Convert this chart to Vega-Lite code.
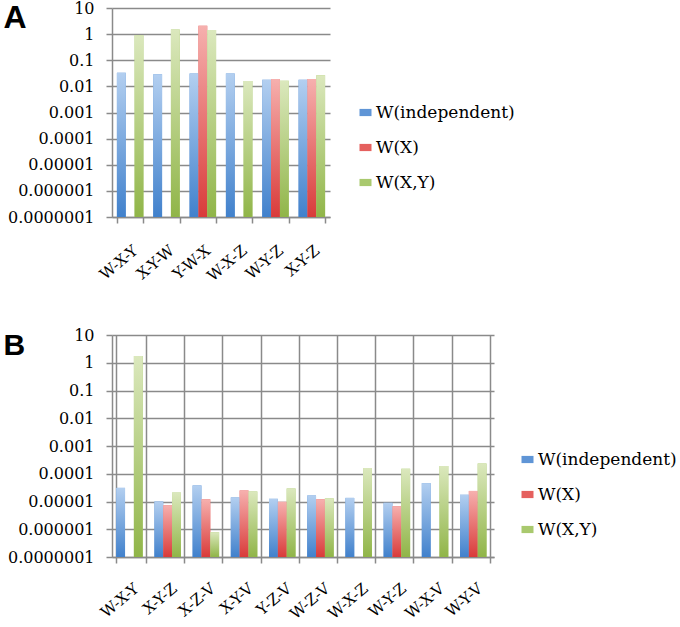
{
  "$schema": "https://vega.github.io/schema/vega-lite/v6.json",
  "padding": {"left": 3, "top": 0, "right": 0, "bottom": 0},
  "background": "white",
  "spacing": 42,
  "datasets": {
    "a": [
      {"combo": "W-X-Y", "series": "W(independent)", "value": 0.0335},
      {"combo": "W-X-Y", "series": "W(X,Y)", "value": 0.91},
      {"combo": "X-Y-W", "series": "W(independent)", "value": 0.029},
      {"combo": "X-Y-W", "series": "W(X,Y)", "value": 1.5},
      {"combo": "Y-W-X", "series": "W(independent)", "value": 0.031},
      {"combo": "Y-W-X", "series": "W(X)", "value": 2.1},
      {"combo": "Y-W-X", "series": "W(X,Y)", "value": 1.45},
      {"combo": "W-X-Z", "series": "W(independent)", "value": 0.031},
      {"combo": "W-X-Z", "series": "W(X,Y)", "value": 0.016},
      {"combo": "W-Y-Z", "series": "W(independent)", "value": 0.018},
      {"combo": "W-Y-Z", "series": "W(X)", "value": 0.019},
      {"combo": "W-Y-Z", "series": "W(X,Y)", "value": 0.0163},
      {"combo": "X-Y-Z", "series": "W(independent)", "value": 0.018},
      {"combo": "X-Y-Z", "series": "W(X)", "value": 0.019},
      {"combo": "X-Y-Z", "series": "W(X,Y)", "value": 0.0266}
    ],
    "b": [
      {"combo": "W-X-Y", "series": "W(independent)", "value": 0.000031},
      {"combo": "W-X-Y", "series": "W(X,Y)", "value": 1.75},
      {"combo": "X-Y-Z", "series": "W(independent)", "value": 0.00001},
      {"combo": "X-Y-Z", "series": "W(X)", "value": 0.0000074},
      {"combo": "X-Y-Z", "series": "W(X,Y)", "value": 0.000021},
      {"combo": "X-Z-V", "series": "W(independent)", "value": 0.000038},
      {"combo": "X-Z-V", "series": "W(X)", "value": 0.000012},
      {"combo": "X-Z-V", "series": "W(X,Y)", "value": 0.00000078},
      {"combo": "X-Y-V", "series": "W(independent)", "value": 0.000014},
      {"combo": "X-Y-V", "series": "W(X)", "value": 0.000025},
      {"combo": "X-Y-V", "series": "W(X,Y)", "value": 0.000023},
      {"combo": "Y-Z-V", "series": "W(independent)", "value": 0.0000125},
      {"combo": "Y-Z-V", "series": "W(X)", "value": 0.0000097},
      {"combo": "Y-Z-V", "series": "W(X,Y)", "value": 0.0000295},
      {"combo": "W-Z-V", "series": "W(independent)", "value": 0.0000165},
      {"combo": "W-Z-V", "series": "W(X)", "value": 0.000012},
      {"combo": "W-Z-V", "series": "W(X,Y)", "value": 0.000013},
      {"combo": "W-X-Z", "series": "W(independent)", "value": 0.0000135},
      {"combo": "W-X-Z", "series": "W(X,Y)", "value": 0.00016},
      {"combo": "W-Y-Z", "series": "W(independent)", "value": 0.000009},
      {"combo": "W-Y-Z", "series": "W(X)", "value": 0.0000068},
      {"combo": "W-Y-Z", "series": "W(X,Y)", "value": 0.00015},
      {"combo": "W-X-V", "series": "W(independent)", "value": 0.000046},
      {"combo": "W-X-V", "series": "W(X,Y)", "value": 0.00019},
      {"combo": "W-Y-V", "series": "W(independent)", "value": 0.0000175},
      {"combo": "W-Y-V", "series": "W(X)", "value": 0.000024},
      {"combo": "W-Y-V", "series": "W(X,Y)", "value": 0.000235}
    ]
  },
  "config": {
    "view": {"stroke": null},
    "axis": {
      "domainColor": "#8a8a8a", "domainWidth": 1.5,
      "tickColor": "#8a8a8a", "tickWidth": 1.5, "tickSize": 6,
      "gridColor": "#8a8a8a", "gridWidth": 1.5, "gridOpacity": 1,
      "labelFont": "DejaVu Serif", "labelColor": "#000000"
    },
    "legend": {
      "labelFont": "DejaVu Serif", "labelFontSize": 17, "labelColor": "#000000",
      "symbolType": "M-1,-0.6H1V0.6H-1Z", "symbolSize": 144, "symbolStrokeWidth": 0,
      "rowPadding": 17, "labelOffset": 2, "title": null
    }
  },
  "resolve": {
    "scale": {"color": "independent"},
    "legend": {"color": "independent"}
  },
  "vconcat": [
    {
      "width": 218,
      "height": 209,
      "data": {"name": "a"},
      "encoding": {
        "x": {
          "field": "combo", "type": "nominal",
          "sort": ["W-X-Y", "X-Y-W", "Y-W-X", "W-X-Z", "W-Y-Z", "X-Y-Z"],
          "scale": {"paddingInner": 0.27, "paddingOuter": 0.135},
          "axis": {"title": null, "labelAngle": -40, "labelAlign": "right", "labelBaseline": "middle", "labelFontSize": 15.5, "labelPadding": 25, "labelOffset": 5, "tickBand": "extent", "grid": false}
        },
        "xOffset": {
          "field": "series", "type": "nominal",
          "scale": {"domain": ["W(independent)", "W(X)", "W(X,Y)"]}
        },
        "y": {
          "field": "value", "type": "quantitative", "stack": null,
          "scale": {"type": "log", "domain": [0.0000001, 10], "nice": false},
          "axis": {
            "values": [0.0000001, 0.000001, 0.00001, 0.0001, 0.001, 0.01, 0.1, 1, 10],
            "format": ".7~f", "labelFontSize": 16, "labelPadding": 12, "grid": true,
            "title": "A", "titleAngle": 0, "titleFont": "Liberation Sans", "titleFontSize": 32, "titleFontWeight": "bold",
            "titleAlign": "left", "titleBaseline": "top", "titleX": -109, "titleY": -6, "titleColor": "#000000"
          }
        },
        "y2": {"datum": 0.0000001}
      },
      "layer": [
        {
          "mark": {"type": "bar"},
          "encoding": {
            "color": {
              "field": "series", "type": "nominal",
              "scale": {"domain": ["W(independent)", "W(X)", "W(X,Y)"], "range": ["#5f95d6", "#e5605e", "#a9c96e"]},
              "legend": {"orient": "none", "legendX": 245, "legendY": 96}
            }
          }
        },
        {
          "transform": [{"filter": "datum.series === 'W(independent)'"}],
          "mark": {"type": "bar", "color": {"gradient": "linear", "x1": 0, "y1": 1, "x2": 0, "y2": 0, "stops": [{"offset": 0, "color": "#4181cc"}, {"offset": 1, "color": "#b3cff0"}]}}
        },
        {
          "transform": [{"filter": "datum.series === 'W(X)'"}],
          "mark": {"type": "bar", "color": {"gradient": "linear", "x1": 0, "y1": 1, "x2": 0, "y2": 0, "stops": [{"offset": 0, "color": "#d93b3a"}, {"offset": 1, "color": "#f6b0ae"}]}}
        },
        {
          "transform": [{"filter": "datum.series === 'W(X,Y)'"}],
          "mark": {"type": "bar", "color": {"gradient": "linear", "x1": 0, "y1": 1, "x2": 0, "y2": 0, "stops": [{"offset": 0, "color": "#90b548"}, {"offset": 1, "color": "#dbe8bd"}]}}
        }
      ]
    },
    {
      "width": 382,
      "height": 222,
      "data": {"name": "b"},
      "encoding": {
        "x": {
          "field": "combo", "type": "nominal",
          "sort": ["W-X-Y", "X-Y-Z", "X-Z-V", "X-Y-V", "Y-Z-V", "W-Z-V", "W-X-Z", "W-Y-Z", "W-X-V", "W-Y-V"],
          "scale": {"paddingInner": 0.22, "paddingOuter": 0.11},
          "axis": {"title": null, "labelAngle": -40, "labelAlign": "right", "labelBaseline": "middle", "labelFontSize": 15.5, "labelPadding": 23, "labelOffset": 5, "tickBand": "extent", "grid": true}
        },
        "xOffset": {
          "field": "series", "type": "nominal",
          "scale": {"domain": ["W(independent)", "W(X)", "W(X,Y)"]}
        },
        "y": {
          "field": "value", "type": "quantitative", "stack": null,
          "scale": {"type": "log", "domain": [0.0000001, 10], "nice": false},
          "axis": {
            "values": [0.0000001, 0.000001, 0.00001, 0.0001, 0.001, 0.01, 0.1, 1, 10],
            "format": ".7~f", "labelFontSize": 16, "labelPadding": 12, "grid": true,
            "title": "B", "titleAngle": 0, "titleFont": "Liberation Sans", "titleFontSize": 30, "titleFontWeight": "bold",
            "titleAlign": "left", "titleBaseline": "top", "titleX": -109, "titleY": -5, "titleColor": "#000000"
          }
        },
        "y2": {"datum": 0.0000001}
      },
      "layer": [
        {
          "mark": {"type": "bar"},
          "encoding": {
            "color": {
              "field": "series", "type": "nominal",
              "scale": {"domain": ["W(independent)", "W(X)", "W(X,Y)"], "range": ["#5f95d6", "#e5605e", "#a9c96e"]},
              "legend": {"orient": "none", "legendX": 407, "legendY": 116}
            }
          }
        },
        {
          "transform": [{"filter": "datum.series === 'W(independent)'"}],
          "mark": {"type": "bar", "color": {"gradient": "linear", "x1": 0, "y1": 1, "x2": 0, "y2": 0, "stops": [{"offset": 0, "color": "#4181cc"}, {"offset": 1, "color": "#b3cff0"}]}}
        },
        {
          "transform": [{"filter": "datum.series === 'W(X)'"}],
          "mark": {"type": "bar", "color": {"gradient": "linear", "x1": 0, "y1": 1, "x2": 0, "y2": 0, "stops": [{"offset": 0, "color": "#d93b3a"}, {"offset": 1, "color": "#f6b0ae"}]}}
        },
        {
          "transform": [{"filter": "datum.series === 'W(X,Y)'"}],
          "mark": {"type": "bar", "color": {"gradient": "linear", "x1": 0, "y1": 1, "x2": 0, "y2": 0, "stops": [{"offset": 0, "color": "#90b548"}, {"offset": 1, "color": "#dbe8bd"}]}}
        }
      ]
    }
  ]
}
